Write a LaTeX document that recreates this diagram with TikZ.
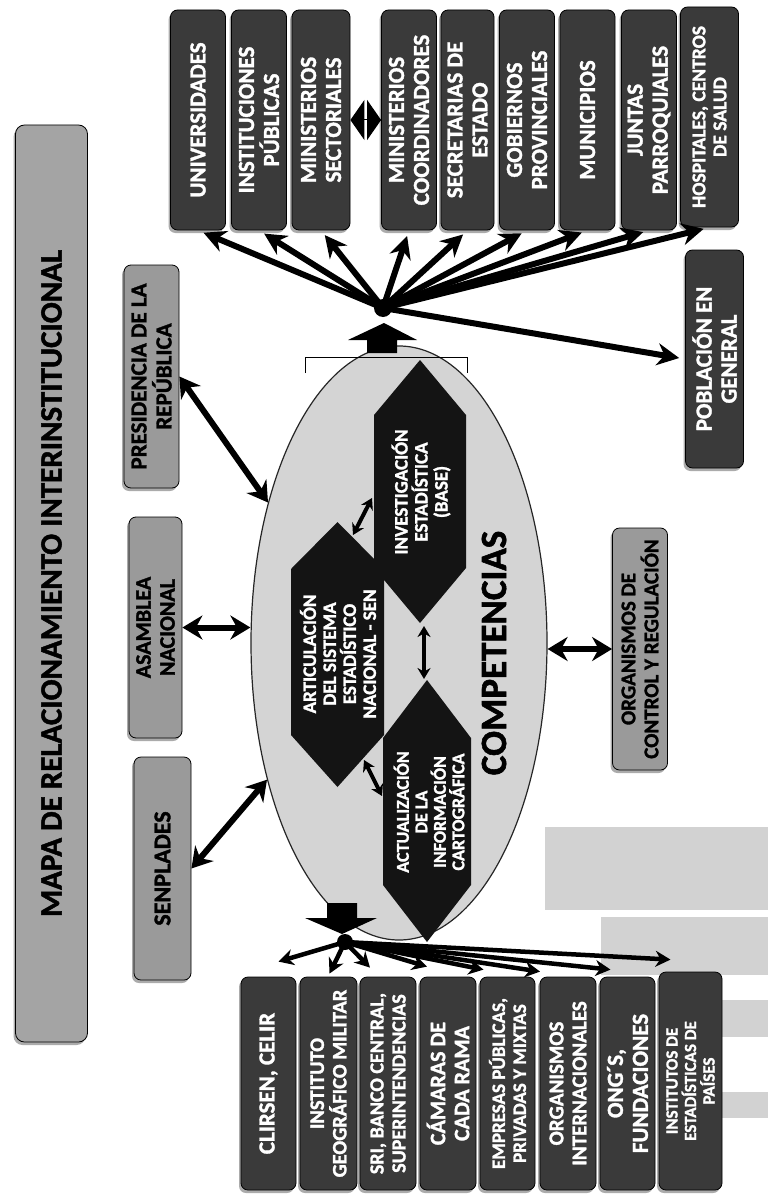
\documentclass[tikz,border=0pt]{standalone}
\usepackage{fontspec}
\setmainfont{Carlito}[BoldFeatures={FakeBold=1.5}]
\usetikzlibrary{shapes.geometric,arrows.meta,shadows}
\definecolor{dkbox}{HTML}{3A3A3A}
\definecolor{gybox}{HTML}{9A9A9A}
\definecolor{ttlf}{HTML}{A4A4A4}
\definecolor{ellf}{HTML}{D4D4D4}
\definecolor{hexf}{HTML}{141414}
\definecolor{bandf}{HTML}{D2D2D2}
\begin{document}
\begin{tikzpicture}[x=1pt,y=-1pt,
  fs/.style 2 args={font=\fontsize{#1}{#2}\selectfont\bfseries},
  shd/.style={drop shadow={shadow xshift=-2pt,shadow yshift=-3pt,fill=black!65}},
  dk/.style={rotate=90,draw=black,line width=0.8pt,fill=dkbox,rounded corners=7pt,
    text=white,align=center,inner sep=1pt,minimum width=220pt,minimum height=55pt,shd,fs={23}{25}},
  dkb/.style={dk,minimum width=213pt},
  gy/.style={rotate=90,draw=black,line width=0.8pt,fill=gybox,rounded corners=7pt,
    text=black,align=center,inner sep=1pt,minimum height=55pt,shd,fs={22}{24}},
  hextxt/.style={rotate=90,text=white,align=center,inner sep=0pt,fs={19}{20}},
  arrT/.style={line width=6pt,-{Stealth[length=22pt,width=22pt]},shorten >=6pt},
  arrB/.style={line width=4.5pt,-{Stealth[length=15pt,width=16pt]}},
  dbl/.style={line width=6pt,{Stealth[length=20pt,width=24pt]}-{Stealth[length=20pt,width=24pt]}},
  sdbl/.style={line width=4pt,{Stealth[length=11pt,width=13pt]}-{Stealth[length=11pt,width=13pt]}}
]
\useasboundingbox[fill=white] (0,0) rectangle (768,1196);

% faint background bands
\fill[bandf] (545,827) rectangle (768,910);
\fill[bandf] (601,917) rectangle (768,975);
\fill[bandf] (722,1000) rectangle (768,1037);
\fill[bandf] (722,1092) rectangle (768,1118);

% title
\node[rotate=90,draw=black,line width=0.8pt,fill=ttlf,rounded corners=9pt,shd,
  minimum width=917pt,minimum height=72pt,inner sep=0pt,fs={31}{33}] (title) at (51.5,583.5)
  {MAPA DE RELACIONAMIENTO INTERINSTITUCIONAL};

% grey boxes
\node[gy,minimum width=223pt,fs={23}{25}] (pres) at (151.5,376.5) {PRESIDENCIA DE LA\\REPÚBLICA};
\node[gy,minimum width=221pt,minimum height=53pt] (asam) at (155.5,627.5) {ASAMBLEA\\NACIONAL};
\node[gy,minimum width=223pt,minimum height=57pt,fs={24}{26}] (senp) at (162.5,868.5) {SENPLADES};
\node[gy,minimum width=242pt,fs={21}{23}] (orgc) at (640,649) {ORGANISMOS DE\\CONTROL Y REGULACIÓN};

% ellipse
\node[ellipse,draw=black!85,line width=1.2pt,fill=ellf,minimum width=296pt,minimum height=594pt,inner sep=0pt] (ell) at (399,643) {};
\draw[line width=0.6pt] (305,373) -- (305,357) -- (467,357) -- (467,373);

% hexagons
\fill[hexf] (420,360) -- (466,415) -- (466,568) -- (420,623) -- (374,568) -- (374,415) -- cycle;
\node[hextxt] (inv) at (421,492) {INVESTIGACIÓN\\ESTADÍSTICA\\(BASE)};
\fill[hexf] (337.5,522) -- (384,569) -- (384,735) -- (337.5,787) -- (291,735) -- (291,569) -- cycle;
\node[hextxt] (art) at (338,654) {ARTICULACIÓN\\DEL SISTEMA\\ESTADÍSTICO\\NACIONAL - SEN};
\fill[hexf] (427,680) -- (471,738) -- (471,885) -- (427,942) -- (383,885) -- (383,738) -- cycle;
\node[hextxt,fs={18}{18.5}] (act) at (429,812) {ACTUALIZACIÓN\\DE LA\\INFORMACIÓN\\CARTOGRÁFICA};

\node[rotate=90,inner sep=0pt,fs={37}{38}] (comp) at (494,653) {COMPETENCIAS};

% links between competencias
\coordinate (ai1) at (353,535); \coordinate (ai2) at (372,498);
\coordinate (ia1) at (424,626); \coordinate (ia2) at (424,679);
\coordinate (aa1) at (364,760); \coordinate (aa2) at (382,796);
\draw[sdbl] (ai1) -- (ai2);
\draw[sdbl] (ia1) -- (ia2);
\draw[sdbl] (aa1) -- (aa2);

% links to grey boxes
\draw[dbl] (pres.south) -- (ell.133);
\draw[dbl] (asam.south) -- (asam.south -| ell.west);
\draw[dbl] (senp.south) -- (ell.226);
\draw[dbl] (ell.east |- orgc.north) -- (orgc.north);

% top group
\node[dk] (univ) at (198,120) {UNIVERSIDADES};
\node[dk] (inst) at (259,120) {INSTITUCIONES\\PÚBLICAS};
\node[dk,minimum height=58pt] (mins) at (321,120) {MINISTERIOS\\SECTORIALES};
\node[dk] (minc) at (409,120) {MINISTERIOS\\COORDINADORES};
\node[dk,minimum height=53pt] (secr) at (467.5,120) {SECRETARIAS DE\\ESTADO};
\node[dk] (gobi) at (527,120) {GOBIERNOS\\PROVINCIALES};
\node[dk] (muni) at (587.5,120) {MUNICIPIOS};
\node[dk] (junt) at (649,120) {JUNTAS\\PARROQUIALES};
\node[dk,minimum height=58pt,fs={19.5}{21}] (hosp) at (709.5,117) {HOSPITALES, CENTROS\\DE SALUD};
\node[dk,minimum width=218pt,minimum height=58pt] (pob) at (714.5,359) {POBLACIÓN EN\\GENERAL};

\draw[line width=1pt,{Triangle[length=14pt,width=40pt]}-{Triangle[length=14pt,width=40pt]}] (mins.south) -- (minc.north);

% upper hub
\coordinate (hubT) at (383,308);
\fill (367,353) -- (367,340) -- (348,340) -- (384,323) -- (417,340) -- (397,340) -- (397,353) -- cycle;
\foreach \n in {univ,inst,mins,minc,secr,gobi,muni,junt,hosp}
  \draw[arrT] (hubT) -- (\n.west);
\draw[arrT] (hubT) -- (pob.north);
\fill (hubT) circle (9pt);

% bottom group
\node[dkb,fs={23}{25}] (clir) at (268.5,1083.5) {CLIRSEN, CELIR};
\node[dkb,minimum height=57pt,fs={20.5}{22.5}] (ingm) at (328.5,1083.5) {INSTITUTO\\GEOGRÁFICO MILITAR};
\node[dkb,minimum height=56pt,fs={20}{22}] (sri) at (388,1083.5) {SRI, BANCO CENTRAL,\\SUPERINTENDENCIAS};
\node[dkb,minimum height=56pt,fs={22}{24}] (cama) at (448,1083.5) {CÁMARAS DE\\CADA RAMA};
\node[dkb,fs={19}{21}] (empr) at (507.5,1083.5) {EMPRESAS PÚBLICAS,\\PRIVADAS Y MIXTAS};
\node[dkb,minimum height=56pt,fs={21}{23}] (orgi) at (568,1083.5) {ORGANISMOS\\INTERNACIONALES};
\node[dkb,fs={23}{25}] (ongs) at (627.5,1083.5) {ONG´S,\\FUNDACIONES};
\node[dkb,minimum width=218pt,minimum height=63pt,fs={17}{18.5}] (inse) at (690.5,1081) {INSTITUTOS DE\\ESTADÍSTICAS DE\\PAÍSES};

% lower hub
\coordinate (hubB) at (345,942);
\fill (327,903) -- (357,903) -- (357,918) -- (377,918) -- (342,934) -- (305,918) -- (327,918) -- cycle;
\draw[arrB] (hubB) -- ([xshift=10pt,yshift=15pt]clir.east);
\draw[arrB] (hubB) -- ([xshift=1pt,yshift=3pt]ingm.east);
\draw[arrB] (hubB) -- ([xshift=-18pt,yshift=9pt]sri.east);
\draw[arrB] (hubB) -- ([xshift=-21pt,yshift=10pt]cama.east);
\draw[arrB] (hubB) -- ([xshift=-24pt,yshift=7pt]empr.east);
\draw[arrB] (hubB) -- ([xshift=-28pt,yshift=5pt]orgi.east);
\draw[arrB] (hubB) -- ([xshift=-17pt,yshift=7pt]ongs.east);
\draw[arrB] (hubB) -- ([xshift=-20pt,yshift=12pt]inse.east);
\fill (hubB) circle (8pt);
\end{tikzpicture}
\end{document}
